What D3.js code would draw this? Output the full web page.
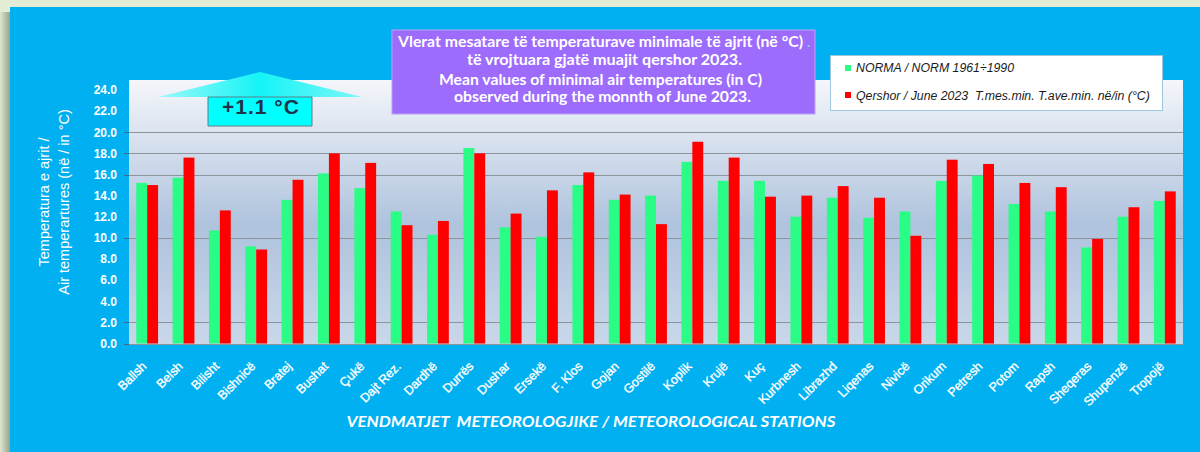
<!DOCTYPE html>
<html lang="en">
<head>
<meta charset="utf-8">
<title>temperaturat minimale qershor 2023</title>
<script src="https://d3js.org/d3.v7.min.js"></script>
<style>
html,body{margin:0;padding:0;overflow:hidden;background:#00b0f0;}
svg{display:block;}
</style>
</head>
<body>
<div id="chart"></div>
<script>
// stations and values
var stations = ["Ballsh","Belsh","Bilisht","Bishnicë","Bratej","Bushat","Çukë","Dajt Rez.","Dardhë","Durrës",
    "Dushar","Ersekë","F. Klos","Gojan","Gostilë","Koplik","Krujë","Kuç","Kurbnesh","Librazhd",
    "Liqenas","Nivicë","Orikum","Petresh","Potom","Rapsh","Sheqeras","Shupenzë","Tropojë"]
var normValues = [15.2,15.7,10.7,9.2,13.6,16.1,14.7,12.5,10.3,18.5,
    11.0,10.1,15.0,13.6,14.0,17.2,15.4,15.4,12.0,13.8,
    11.9,12.5,15.4,15.9,13.2,12.5,9.1,12.0,13.5]
var juneValues = [15.0,17.6,12.6,8.9,15.5,18.0,17.1,11.2,11.6,18.0,
    12.3,14.5,16.2,14.1,11.3,19.1,17.6,13.9,14.0,14.9,
    13.8,10.2,17.4,17.0,15.2,14.8,9.9,12.9,14.4]
var yTicks = [0,2,4,6,8,10,12,14,16,18,20,22,24]
var gridValues = [0,2,10,16,18,20]
var seriesNames = ["NORMA / NORM 1961÷1990","Qershor / June 2023  T.mes.min. T.ave.min. në/in (°C)"]
var seriesColors = ["#29fd86","#ff0000"]
var titleLines = ["Vlerat mesatare të temperaturave minimale të ajrit (në °C)",
    "të vrojtuara gjatë muajit qershor 2023.",
    "Mean values of minimal air temperatures (in C)",
    "observed during the monnth of June 2023."]
var yTitleLines = ["Temperatura e ajrit /","Air temperartures (në / in °C)"]
var xTitle = "VENDMATJET  METEOROLOGJIKE / METEOROLOGICAL STATIONS"
var anomalyLabel = "+1.1 °C"

var W = 1200, H = 452
var plot = {left:129, right:1183, top:80, bottom:344}

var svg = d3.select("#chart").append("svg").attr("width",W).attr("height",H)
var defs = svg.append("defs")

var shade = defs.append("linearGradient").attr("id","shade").attr("x1",0).attr("x2",1).attr("y1",0).attr("y2",0)
shade.append("stop").attr("offset","0%").attr("stop-color","#dde6cf")
shade.append("stop").attr("offset","100%").attr("stop-color","#9aa28c")

var wall = defs.append("linearGradient").attr("id","wall").attr("x1",0).attr("x2",0).attr("y1",0).attr("y2",1)
wall.append("stop").attr("offset","0%").attr("stop-color","#f4f6fa")
wall.append("stop").attr("offset","55%").attr("stop-color","#afc3dd")
wall.append("stop").attr("offset","100%").attr("stop-color","#c9d7e9")

var headGrad = defs.append("linearGradient").attr("id","head").attr("x1",0).attr("x2",1).attr("y1",0).attr("y2",0)
headGrad.append("stop").attr("offset","0%").attr("stop-color","#9ff8fa")
headGrad.append("stop").attr("offset","50%").attr("stop-color","#14f4f6")
headGrad.append("stop").attr("offset","100%").attr("stop-color","#7ff6f8")

// frame
svg.append("rect").attr("x",0).attr("y",0).attr("width",W).attr("height",H).attr("fill","#e3edd6")
svg.append("rect").attr("x",0).attr("y",12).attr("width",10).attr("height",H-12).attr("fill","url(#shade)")
svg.append("rect").attr("x",10).attr("y",7).attr("width",W).attr("height",H).attr("fill","#00b0f0")

// plot wall
svg.append("rect").attr("x",plot.left).attr("y",plot.top)
    .attr("width",plot.right-plot.left).attr("height",plot.bottom-plot.top)
    .attr("fill","url(#wall)")

var yScale = d3.scaleLinear().domain([0,24]).range([343.5,90])
var xScale = d3.scaleBand().domain(stations).range([plot.left,plot.right]).paddingInner(0.4).paddingOuter(0.2)
var sScale = d3.scaleBand().domain([0,1]).range([0,xScale.bandwidth()])

// gridlines
svg.selectAll(".grid").data(gridValues).enter().append("line")
    .attr("x1",plot.left).attr("x2",plot.right)
    .attr("y1",function(d){return Math.round(yScale(d))+0.5})
    .attr("y2",function(d){return Math.round(yScale(d))+0.5})
    .attr("stroke","#8e949c").attr("stroke-width",1)
svg.selectAll(".ytick").data(gridValues).enter().append("line")
    .attr("x1",plot.left-5).attr("x2",plot.left)
    .attr("y1",function(d){return Math.round(yScale(d))+0.5})
    .attr("y2",function(d){return Math.round(yScale(d))+0.5})
    .attr("stroke","#3f6a8c").attr("stroke-width",1)

// y tick labels
svg.selectAll(".ylab").data(yTicks).enter().append("text")
    .attr("x",117).attr("y",function(d){return yScale(d)})
    .attr("dy","0.36em").attr("text-anchor","end")
    .attr("font-family","Liberation Sans, Arial, sans-serif").attr("font-size",12).attr("font-weight","bold")
    .attr("fill","#fff").text(function(d){return d.toFixed(1)})

// bars
var series = [normValues, juneValues]
series.forEach(function(vals, s){
    svg.selectAll(".bar"+s).data(vals).enter().append("rect")
        .attr("x",function(d,i){return xScale(stations[i])+sScale(s)})
        .attr("y",function(d){return yScale(d)})
        .attr("width",sScale.bandwidth())
        .attr("height",function(d){return yScale(0)-yScale(d)})
        .attr("fill",seriesColors[s])
})

// x labels
svg.selectAll(".xlab").data(stations).enter().append("text")
    .attr("transform",function(d){
        var cx = xScale(d)+xScale.bandwidth()/2
        return "translate("+(cx)+",367) rotate(-45)"
    })
    .attr("text-anchor","end")
    .attr("font-family","Liberation Sans, Arial, sans-serif").attr("font-size",12.5)
    .attr("fill","#fff").attr("stroke","#fff").attr("stroke-width",0.35)
    .text(function(d){return d})

// axis titles
var yt = svg.append("g").attr("font-family","Liberation Sans, Arial, sans-serif").attr("font-size",14.5).attr("fill","#fff")
yTitleLines.forEach(function(t,i){
    yt.append("text").attr("transform","translate("+(49+i*20)+",202) rotate(-90)")
        .attr("text-anchor","middle").text(t)
})
svg.append("text").attr("x",591).attr("y",427).attr("text-anchor","middle")
    .attr("font-family","Lato, Open Sans, sans-serif").attr("font-size",16)
    .attr("font-weight","bold").attr("font-style","italic").attr("fill","#fff")
    .attr("textLength",489).attr("lengthAdjust","spacingAndGlyphs")
    .style("white-space","pre")
    .text(xTitle)

// title box
svg.append("rect").attr("x",392).attr("y",30).attr("width",423).attr("height",84)
    .attr("fill","#9d6cfc").attr("stroke","#b9a2f5").attr("stroke-width",1)
var tCenters = [600.5,604.5,600.5,602.5]
var tWidths = [405,275,323,297]
var tBase = [46.7,65,85,102.3]
titleLines.forEach(function(t,i){
    svg.append("text").attr("x",tCenters[i]).attr("y",tBase[i]).attr("text-anchor","middle")
        .attr("font-family","Lato, Open Sans, sans-serif").attr("font-size",14.5).attr("font-weight","bold")
        .attr("fill","#fff").attr("textLength",tWidths[i]).attr("lengthAdjust","spacingAndGlyphs")
        .text(t)
})
svg.append("text").attr("x",807).attr("y",46.7).attr("font-family","Lato, sans-serif")
    .attr("font-size",14).attr("font-weight","bold").attr("fill","#7fd0f0").text(".")

// legend
svg.append("rect").attr("x",830.5).attr("y",55.5).attr("width",332).attr("height",55)
    .attr("fill","#fff").attr("stroke","#9cc6de").attr("stroke-width",1)
seriesNames.forEach(function(n,i){
    svg.append("rect").attr("x",845).attr("y",65+i*27).attr("width",6).attr("height",6).attr("fill",seriesColors[i])
    svg.append("text").attr("x",856).attr("y",72+i*28)
        .attr("font-family","Liberation Sans, Arial, sans-serif").attr("font-size",12.3)
        .attr("font-style","italic").attr("fill","#1a1a1a").style("white-space","pre").text(n)
})

// anomaly arrow
var arrowHead = [[158,97],[260,72],[362,97]]
var arrowBody = [[208,97],[312,97],[312,126],[208,126]]
svg.append("polygon").attr("points",arrowHead.map(function(p){return p.join(",")}).join(" "))
    .attr("fill","url(#head)")
svg.append("polygon").attr("points",arrowBody.map(function(p){return p.join(",")}).join(" "))
    .attr("fill","#00ffff").attr("stroke","#5d7f88").attr("stroke-width",1)
svg.append("text").attr("x",261).attr("y",113.5).attr("text-anchor","middle")
    .attr("font-family","Liberation Sans, Arial, sans-serif").attr("font-size",21).attr("font-weight","bold")
    .attr("letter-spacing",1).attr("fill","#20324a").text(anomalyLabel)
</script>
</body>
</html>
